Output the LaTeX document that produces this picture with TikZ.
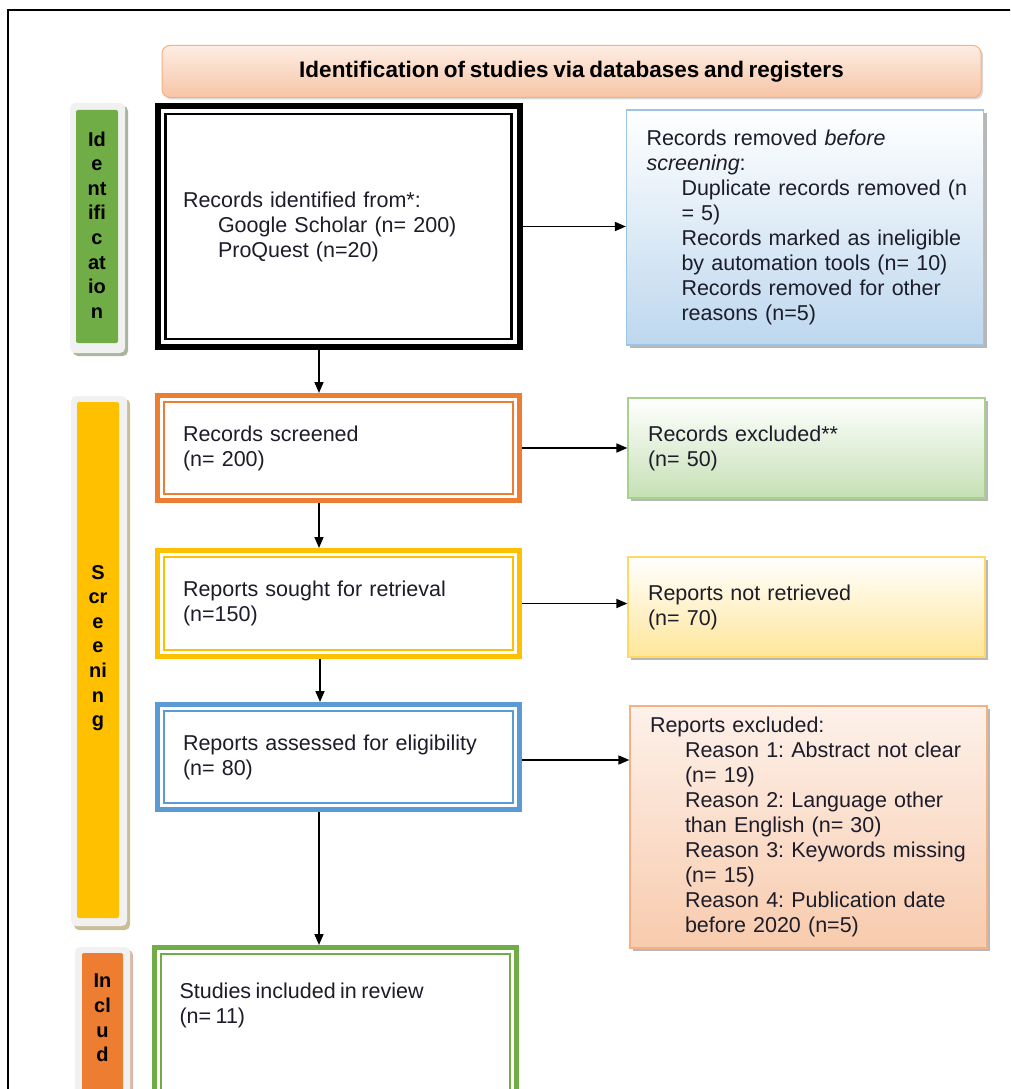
\documentclass[tikz,border=0pt]{standalone}
\usepackage{fontspec}
\setmainfont{Liberation Sans}[WordSpace=0.75]
\usetikzlibrary{arrows.meta,shadows}
\frenchspacing
\definecolor{txt}{HTML}{1C1C2A}
\definecolor{cgreen}{HTML}{70AD47}
\definecolor{cyellow}{HTML}{FFC000}
\definecolor{corange}{HTML}{ED7D31}
\definecolor{cblue}{HTML}{5B9BD5}
\definecolor{hdrtop}{HTML}{FDEDE3}
\definecolor{hdrbot}{HTML}{F7C5A6}
\definecolor{hdrborder}{HTML}{F4B183}
\definecolor{bluebot}{HTML}{BDD7EE}
\definecolor{blueborder}{HTML}{9DC3E6}
\definecolor{greenbot}{HTML}{C5E0B4}
\definecolor{greenborder}{HTML}{A9D18E}
\definecolor{yelbot}{HTML}{FFE699}
\definecolor{yelborder}{HTML}{FFD966}
\definecolor{orgtop}{HTML}{FDF1EA}
\definecolor{orgbot}{HTML}{F8CBAD}
\definecolor{orgborder}{HTML}{F4B183}
\definecolor{barframe}{HTML}{F1F1F1}
\definecolor{shgreen}{HTML}{A9B59C}
\definecolor{shyellow}{HTML}{C9BE96}
\definecolor{shorange}{HTML}{D9B8A6}
\newcommand\ind[1]{\mbox{\hspace*{35pt}#1}}
\begin{document}
\begin{tikzpicture}[x=1pt,y=-1pt,
  every node/.style={text=txt},
  bodyfont/.style={font=\fontsize{21.5pt}{25pt}\selectfont\frenchspacing},
  mainboxbase/.style={draw, rectangle, line width=5pt, fill=white, inner xsep=25.5pt, inner ysep=0pt, bodyfont},
  mainbox/.style={mainboxbase, text width=311pt, align=left},
  sidebox/.style={draw, rectangle, line width=1.2pt, inner xsep=20pt, inner ysep=0pt, text width=317pt, align=left, bodyfont,
    drop shadow={shadow xshift=3pt, shadow yshift=-3pt, fill=black!40, opacity=0.7}},
  arr/.style={line width=1.6pt, -{Triangle[length=11pt,width=9pt]}},
  bartext/.style={font=\bfseries\fontsize{20pt}{24.6pt}\selectfont, align=center, text=black},
]
\useasboundingbox (0,0) rectangle (1010,1089);
\clip (0,0) rectangle (1010,1089);
\fill[white] (0,0) rectangle (1010,1089);

% outer frame
\draw[line width=2pt] (8,1100) -- (8,10) -- (1020,10);

% header
\node[draw=hdrborder, line width=1pt, rounded corners=8pt, top color=hdrtop, bottom color=hdrbot,
  minimum width=819pt, minimum height=52pt, font=\bfseries\fontsize{22.5pt}{26pt}\selectfont, text=black,
  drop shadow={shadow xshift=2pt, shadow yshift=-2pt, fill=black!25, opacity=0.6}] (hdr) at (571.5,71.5)
  {Identification of studies via databases and registers};

% side bars
\fill[shgreen, rounded corners=5pt] (73,106) rectangle (128,356);
\fill[barframe, rounded corners=5pt] (70,103) rectangle (125,353);
\fill[cgreen, rounded corners=2pt] (76,110) rectangle (118,343);
\node[bartext] (tid) at (97,225) {Id\\e\\nt\\ifi\\c\\at\\io\\n};

\fill[shyellow, rounded corners=5pt] (74,399) rectangle (130,930);
\fill[barframe, rounded corners=5pt] (71,396) rectangle (127,926);
\fill[cyellow, rounded corners=2pt] (77,402) rectangle (119,918);
\node[bartext] (tscr) at (98,648) {S\\cr\\e\\e\\ni\\n\\g};

\fill[shorange, rounded corners=5pt] (78,950) rectangle (133,1110);
\fill[barframe, rounded corners=5pt] (75,947) rectangle (130,1110);
\fill[corange, rounded corners=2pt] (82,953) rectangle (123,1110);
\node[bartext] (tinc) at (102.5,1018) {In\\cl\\u\\d};

% main boxes
\node[mainbox, line width=6pt, draw=black, minimum height=241pt] (b1) at (338.5,226.5)
  {Records identified from*:\\\ind{Google Scholar (n= 200)}\\\ind{ProQuest (n=20)}};
\node[mainbox, draw=corange, minimum height=105pt] (b2) at (338.5,448)
  {Records screened\\(n= 200)};
\node[mainbox, draw=cyellow, minimum height=106pt] (b3) at (338.5,603.5)
  {Reports sought for retrieval\\(n=150)};
\node[mainbox, draw=cblue, minimum height=105pt] (b4) at (338.5,757)
  {Reports assessed for eligibility\\(n= 80)};
\node[mainboxbase, draw=cgreen, anchor=north] (b5) at (335,945)
  {\begin{minipage}[t][170pt][t]{311pt}\rule{0pt}{51pt}Studies included in review\\(n= 11)\end{minipage}};

\draw[black, line width=2.5pt] ([shift={(11,11)}]b1.north west) rectangle ([shift={(-11,-11)}]b1.south east);
\foreach \b/\c in {b2/corange, b3/cyellow, b4/cblue, b5/cgreen}
  \draw[\c, line width=2pt] ([shift={(9,9)}]\b.north west) rectangle ([shift={(-9,-9)}]\b.south east);

% right boxes
\node[sidebox, draw=blueborder, top color=white, bottom color=bluebot, minimum height=235pt] (r1) at (805,227.5)
  {\mbox{Records removed \textit{before}}\\\mbox{\textit{screening}:}\\
   \ind{Duplicate records removed (n}\\
   \ind{= 5)}\\
   \ind{Records marked as ineligible}\\
   \ind{by automation tools (n= 10)}\\
   \ind{Records removed for other}\\
   \ind{reasons (n=5)}};
\node[sidebox, draw=greenborder, top color=white, bottom color=greenbot, minimum height=100pt] (r2) at (806.5,448)
  {Records excluded**\\(n= 50)};
\node[sidebox, draw=yelborder, top color=white, bottom color=yelbot, minimum height=100pt] (r3) at (806.5,607)
  {Reports not retrieved\\(n= 70)};
\node[sidebox, draw=orgborder, top color=orgtop, bottom color=orgbot, minimum height=242pt] (r4) at (808.5,827)
  {\mbox{Reports excluded:}\\
   \ind{Reason 1: Abstract not clear}\\
   \ind{(n= 19)}\\
   \ind{Reason 2: Language other}\\
   \ind{than English (n= 30)}\\
   \ind{Reason 3: Keywords missing}\\
   \ind{(n= 15)}\\
   \ind{Reason 4: Publication date}\\
   \ind{before 2020 (n=5)}};

% connectors
\coordinate (ax) at (319,0);
\draw[arr] (ax |- b1.south) -- (ax |- b2.north);
\draw[arr] (ax |- b2.south) -- (ax |- b3.north);
\draw[arr] ([xshift=1pt]ax |- b3.south) -- ([xshift=1pt]ax |- b4.north);
\draw[arr] (ax |- b4.south) -- (ax |- b5.north);
\draw[arr] (b1.east) -- (b1.east -| r1.west);
\draw[arr] (b2.east) -- (b2.east -| r2.west);
\draw[arr] (b3.east) -- (b3.east -| r3.west);
\draw[arr] ([yshift=-3pt]b4.east) -- ([yshift=-3pt]b4.east -| r4.west);
\end{tikzpicture}
\end{document}
